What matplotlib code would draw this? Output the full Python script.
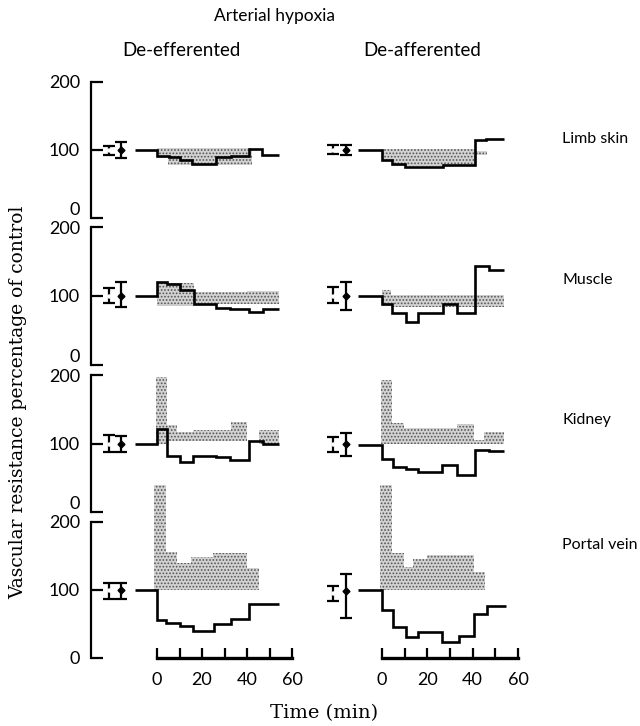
import matplotlib
matplotlib.use("Agg")
import matplotlib.pyplot as plt
import numpy as np

plt.rcParams['font.family'] = ['Lato', 'DejaVu Sans']
plt.rcParams['hatch.color'] = '#555555'
plt.rcParams['hatch.linewidth'] = 0.8

# ---- data (time in min, values in % of control) ----
# line = step trace, shade = stippled band (top/bottom), eb = control error bars
limb_l_t = [-10, 0, 5.5, 10, 15.5, 26, 33, 41, 46.5, 54]
limb_l_v = [100, 91, 89, 85, 79, 89, 91, 101, 92]
limb_l_st = [0, 5, 42]
limb_l_top = [103, 103]
limb_l_bot = [88, 78]

limb_r_t = [-10.5, 0, 4.5, 10, 27, 41, 46, 54]
limb_r_v = [100, 85, 80, 75, 78, 114, 116]
limb_r_st = [0, 4.5, 41, 46.5]
limb_r_top = [101, 101, 99]
limb_r_bot = [85, 77, 92]

muscle_l_t = [-10, 0, 4.5, 10, 16.5, 26, 32.5, 41, 47, 54]
muscle_l_v = [100, 121, 117, 109, 88, 82, 81, 77, 81]
muscle_l_st = [0, 16.5, 40, 54]
muscle_l_top = [119, 106, 107]
muscle_l_bot = [86, 88, 89]

muscle_r_t = [-10.5, 0, 4.5, 10.5, 16, 27, 33, 41, 47, 54]
muscle_r_v = [100, 88, 76, 63, 76, 88, 76, 143, 137]
muscle_r_st = [0, 4, 54]
muscle_r_top = [108, 101]
muscle_r_bot = [85, 84]

kidney_l_t = [-10, 0, 4.5, 10, 16, 26, 32.5, 41, 47, 54]
kidney_l_v = [100, 121, 82, 73, 82, 80, 76, 103, 99]
kidney_l_st = [-0.5, 4.5, 9, 16, 33, 40, 45.5, 54]
kidney_l_top = [197, 127, 117, 120, 132, 100, 120]
kidney_l_bot = [100, 103, 103, 103, 103, 100, 100]

kidney_r_t = [-10.5, 0, 5, 10.5, 16, 26.5, 33, 41, 47, 54]
kidney_r_v = [98, 77, 66, 63, 59, 69, 54, 91, 89]
kidney_r_st = [-0.5, 4.5, 9.5, 33, 40.5, 45, 54]
kidney_r_top = [193, 130, 122, 129, 105, 117]
kidney_r_bot = [100, 100, 100, 100, 100, 100]

portal_l_t = [-10, 0, 4, 10, 16, 25.5, 33, 41, 54]
portal_l_v = [100, 56, 51, 47, 40, 50, 57, 79]
portal_l_st = [-1.5, 4, 9, 15, 25, 40, 45.5]
portal_l_top = [254, 156, 140, 148, 155, 132]
portal_l_bot = [100, 100, 100, 100, 100, 100]

portal_r_t = [-10.5, 0, 5, 10.5, 16, 26.5, 34, 40.5, 46.5, 54.5]
portal_r_v = [100, 70, 46, 31, 38, 24, 33, 64, 77]
portal_r_st = [-1, 4.5, 9.5, 13.5, 20, 40.5, 45.5]
portal_r_top = [254, 154, 134, 146, 151, 127]
portal_r_bot = [100, 100, 100, 100, 100, 100]

# control error bars: (centre, lower, upper) for open bar then dotted bar
eb_limb_l = [(100, 8, 6), (100, 12, 12)]
eb_limb_r = [(100, 6, 8), (100, 8, 8)]
eb_muscle_l = [(100, 10, 11), (100, 16, 21)]
eb_muscle_r = [(100, 10, 13), (100, 21, 21)]
eb_kidney_l = [(100, 13, 12), (100, 12, 11)]
eb_kidney_r = [(100, 12, 9), (100, 18, 15)]
eb_portal_l = [(100, 13, 11), (100, 13, 11)]
eb_portal_r = [(96, 12, 10), (99, 40, 25)]
eb_times = [-21.5, -16]

rows = ["Limb skin", "Muscle", "Kidney", "Portal vein"]
row_label_y = [139, 280, 420, 545]
panels = [
    [(limb_l_t, limb_l_v, limb_l_st, limb_l_top, limb_l_bot, eb_limb_l),
     (limb_r_t, limb_r_v, limb_r_st, limb_r_top, limb_r_bot, eb_limb_r)],
    [(muscle_l_t, muscle_l_v, muscle_l_st, muscle_l_top, muscle_l_bot, eb_muscle_l),
     (muscle_r_t, muscle_r_v, muscle_r_st, muscle_r_top, muscle_r_bot, eb_muscle_r)],
    [(kidney_l_t, kidney_l_v, kidney_l_st, kidney_l_top, kidney_l_bot, eb_kidney_l),
     (kidney_r_t, kidney_r_v, kidney_r_st, kidney_r_top, kidney_r_bot, eb_kidney_r)],
    [(portal_l_t, portal_l_v, portal_l_st, portal_l_top, portal_l_bot, eb_portal_l),
     (portal_r_t, portal_r_v, portal_r_st, portal_r_top, portal_r_bot, eb_portal_r)],
]

# ---- layout (pixels) ----
W, H = 640, 726
col_x = [(157, 292), (382, 518)]           # pixel x of t=0 and t=60
row_y = [(218, 82), (365, 227), (512, 375), (658, 522)]   # pixel y of 0 and 200
XMIN, XMAX = -29.33, 64

fig = plt.figure(figsize=(W / 100, H / 100), dpi=100)

for r in range(4):
    y0, y200 = row_y[r]
    for c in range(2):
        x0, x60 = col_x[c]
        ppm = (x60 - x0) / 60.0
        lpx = x0 + XMIN * ppm
        rpx = x0 + XMAX * ppm
        ax = fig.add_axes([lpx / W, 1 - y0 / H, (rpx - lpx) / W, (y0 - y200) / H])
        ax.set_xlim(XMIN, XMAX)
        ax.set_ylim(0, 200)
        ax.patch.set_visible(False)
        for s in ["top", "right"]:
            ax.spines[s].set_visible(False)

        t, v, st, top, bot, eb = panels[r][c]
        sh = ax.stairs(top, st, baseline=bot, fill=True, facecolor='#d2d2d2',
                       hatch='.....', linewidth=0, zorder=1)
        sh.set_clip_on(False)
        ln = ax.stairs(v, t, baseline=None, color='black', linewidth=1.9, zorder=3)
        ln.set_clip_on(False)

        (m1, lo1, hi1), (m2, lo2, hi2) = eb
        ax.errorbar([eb_times[0]], [m1], yerr=[[lo1], [hi1]], fmt='o', ms=2.2,
                    mfc='white', mec='white', ecolor='black', elinewidth=1.6,
                    capsize=4, capthick=1.6, zorder=4)
        ax.errorbar([eb_times[1]], [m2], yerr=[[lo2], [hi2]], fmt='D', ms=3.5,
                    color='black', elinewidth=1.6, capsize=4.5, capthick=1.6, zorder=4)

        if c == 0:
            ax.spines["left"].set_bounds(0, 200)
            ax.spines["left"].set_linewidth(1.6)
            ax.set_yticks([0, 100, 200])
            ax.tick_params(axis='y', direction='in', length=8.5, width=1.6,
                           pad=8, labelsize=13)
            yt = ax.yaxis.get_major_ticks()
            if r < 3:
                yt[0].label1.set_verticalalignment('bottom')
        else:
            ax.spines["left"].set_visible(False)
            ax.set_yticks([])

        if r == 3:
            ax.spines["bottom"].set_bounds(0, 60)
            ax.spines["bottom"].set_linewidth(2.4)
            ax.set_xticks([0, 20, 40, 60])
            ax.set_xticks([10, 30, 50], minor=True)
            ax.tick_params(axis='x', which='both', direction='in', length=7.5,
                           width=1.6, pad=10, labelsize=13)
        else:
            ax.spines["bottom"].set_visible(False)
            ax.set_xticks([])

    fig.text(562 / W, 1 - row_label_y[r] / H, rows[r],
             fontsize=11.5, ha='left', va='center')

fig.text(275 / W, 1 - 16 / H, "Arterial hypoxia", fontsize=12.5, ha='center', va='center')
fig.text(181 / W, 1 - 51 / H, "De-efferented", fontsize=13.5, ha='center', va='center')
fig.text(422 / W, 1 - 51 / H, "De-afferented", fontsize=13.5, ha='center', va='center')
fig.text(18 / W, 1 - 402 / H, "Vascular resistance percentage of control",
         family='DejaVu Serif', fontsize=13.5, rotation=90, ha='center', va='center')
fig.text(324 / W, 1 - 713 / H, "Time (min)", family='DejaVu Serif', fontsize=14,
         ha='center', va='center')

fig.savefig("out.png", dpi=100)
